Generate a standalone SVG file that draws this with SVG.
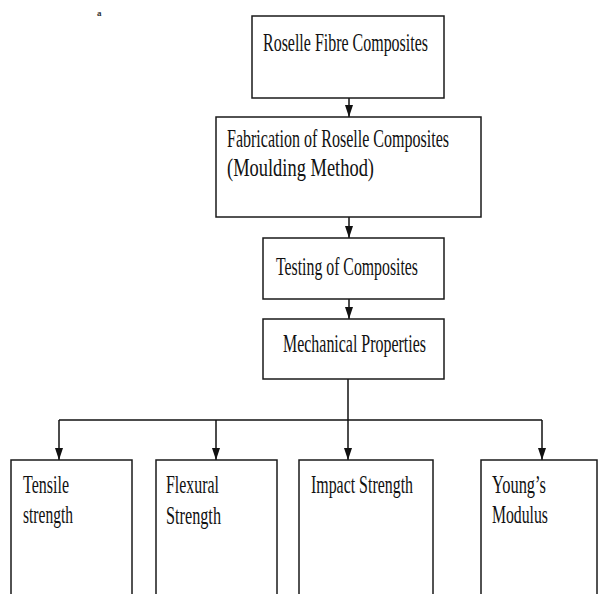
<svg xmlns="http://www.w3.org/2000/svg" width="598" height="594" viewBox="0 0 598 594">
<style>
.box{fill:#fff;stroke:#1a1a1a;stroke-width:1.5}
.t{font-family:"Liberation Serif","DejaVu Serif",serif;font-size:26px;fill:#111}
.c{fill:none;stroke:#111;stroke-width:1.5}
</style>
<defs>
<marker id="ad" viewBox="0 0 12 8" refX="12" refY="4" markerWidth="12" markerHeight="8" markerUnits="userSpaceOnUse" orient="auto">
<path d="M0,0 L12,4 L0,8 Z" fill="#111"/>
</marker>
</defs>
<rect width="598" height="594" fill="#fff"/>
<text x="97" y="16" style="font-family:'Liberation Serif',serif;font-size:9px;font-weight:bold;fill:#333">a</text>
<g id="connectors">
<path class="c" d="M349,98 V117" marker-end="url(#ad)"/>
<path class="c" d="M349,217 V238" marker-end="url(#ad)"/>
<path class="c" d="M349,299 V319" marker-end="url(#ad)"/>
<path class="c" d="M348,379 V420"/>
<path class="c" d="M59,420 H542"/>
<path class="c" d="M59,420 V460" marker-end="url(#ad)"/>
<path class="c" d="M216,420 V460" marker-end="url(#ad)"/>
<path class="c" d="M348,420 V460" marker-end="url(#ad)"/>
<path class="c" d="M542,420 V460" marker-end="url(#ad)"/>
</g>
<g id="n1">
<rect class="box" x="252" y="16" width="192" height="82"/>
<text class="t" x="263" y="51" textLength="165" lengthAdjust="spacingAndGlyphs">Roselle Fibre Composites</text>
</g>
<g id="n2">
<rect class="box" x="216" y="117" width="265" height="100"/>
<text class="t" x="227" y="147" textLength="222" lengthAdjust="spacingAndGlyphs">Fabrication of Roselle Composites</text>
<text class="t" x="227" y="176" textLength="147" lengthAdjust="spacingAndGlyphs">(Moulding Method)</text>
</g>
<g id="n3">
<rect class="box" x="263" y="238" width="181" height="61"/>
<text class="t" x="276" y="275" textLength="142" lengthAdjust="spacingAndGlyphs">Testing of Composites</text>
</g>
<g id="n4">
<rect class="box" x="263" y="319" width="181" height="60"/>
<text class="t" x="283" y="352" textLength="143" lengthAdjust="spacingAndGlyphs">Mechanical Properties</text>
</g>
<g id="n5">
<rect class="box" x="11" y="460" width="121" height="145"/>
<text class="t" x="23" y="493" textLength="46" lengthAdjust="spacingAndGlyphs">Tensile</text>
<text class="t" x="23" y="523" textLength="50" lengthAdjust="spacingAndGlyphs">strength</text>
</g>
<g id="n6">
<rect class="box" x="156" y="460" width="121" height="145"/>
<text class="t" x="166" y="493" textLength="53" lengthAdjust="spacingAndGlyphs">Flexural</text>
<text class="t" x="166" y="524" textLength="55" lengthAdjust="spacingAndGlyphs">Strength</text>
</g>
<g id="n7">
<rect class="box" x="299" y="460" width="134" height="145"/>
<text class="t" x="311" y="493" textLength="102" lengthAdjust="spacingAndGlyphs">Impact Strength</text>
</g>
<g id="n8">
<rect class="box" x="481" y="460" width="116" height="145"/>
<text class="t" x="492" y="493" textLength="54" lengthAdjust="spacingAndGlyphs">Young’s</text>
<text class="t" x="492" y="523" textLength="56" lengthAdjust="spacingAndGlyphs">Modulus</text>
</g>
</svg>
